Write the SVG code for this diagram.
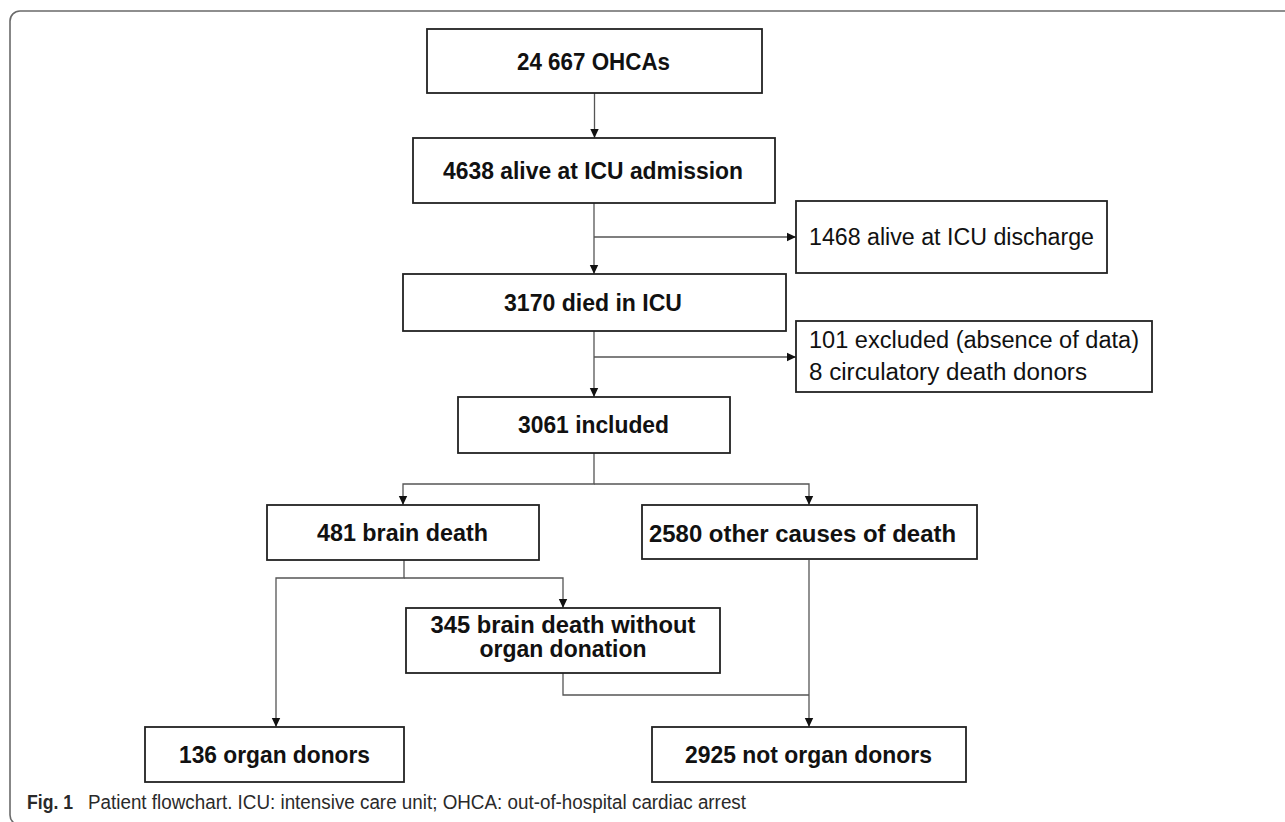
<svg xmlns="http://www.w3.org/2000/svg" width="1285" height="822" viewBox="0 0 1285 822">
<defs>
<marker id="ah" markerUnits="userSpaceOnUse" markerWidth="10" markerHeight="10" viewBox="0 0 10 10" refX="9" refY="5" orient="auto">
<path d="M0,0.8 L9,5 L0,9.2 Z" fill="#111"/>
</marker>
<style>
.frame{fill:none;stroke:#6a6a6a;stroke-width:1.6}
.box{fill:#fff;stroke:#222;stroke-width:1.8}
.b{font-family:"Liberation Sans",Arial,sans-serif;font-weight:bold;font-size:23.5px;fill:#111;text-anchor:middle}
.r{font-family:"Liberation Sans",Arial,sans-serif;font-size:23px;fill:#111}
.c{fill:none;stroke:#555;stroke-width:1.3}
.cap{font-family:"Liberation Sans",Arial,sans-serif;font-size:20px;fill:#2a2a2a}
</style>
</defs>
<rect class="frame" x="10" y="11" width="1300" height="814" rx="10"/>
<g id="connectors">
<path class="c" d="M594.5,93 V138" marker-end="url(#ah)"/>
<path class="c" d="M594,203 V274" marker-end="url(#ah)"/>
<path class="c" d="M594,237 H796" marker-end="url(#ah)"/>
<path class="c" d="M594,331 V397" marker-end="url(#ah)"/>
<path class="c" d="M594,357 H796" marker-end="url(#ah)"/>
<path class="c" d="M594,453 V484 H403 V505" marker-end="url(#ah)"/>
<path class="c" d="M594,484 H809 V505" marker-end="url(#ah)"/>
<path class="c" d="M404,560 V578 H276 V727" marker-end="url(#ah)"/>
<path class="c" d="M404,578 H563 V608" marker-end="url(#ah)"/>
<path class="c" d="M809,560 V727" marker-end="url(#ah)"/>
<path class="c" d="M563,673 V695 H809"/>
</g>
<g id="n1"><rect class="box" x="427" y="29" width="335" height="64"/><text class="b" x="593.5" y="70" textLength="153" lengthAdjust="spacingAndGlyphs">24 667 OHCAs</text></g>
<g id="n2"><rect class="box" x="413" y="138" width="362" height="65"/><text class="b" x="593" y="179" textLength="300" lengthAdjust="spacingAndGlyphs">4638 alive at ICU admission</text></g>
<g id="n3"><rect class="box" x="796" y="201" width="311" height="72"/><text class="r" x="809" y="245" textLength="285" lengthAdjust="spacingAndGlyphs">1468 alive at ICU discharge</text></g>
<g id="n4"><rect class="box" x="403" y="274" width="383" height="57"/><text class="b" x="593" y="311" textLength="178" lengthAdjust="spacingAndGlyphs">3170 died in ICU</text></g>
<g id="n5"><rect class="box" x="796" y="321" width="356" height="71"/><text class="r" x="809" y="348" textLength="330" lengthAdjust="spacingAndGlyphs">101 excluded (absence of data)</text><text class="r" x="809" y="380" textLength="278" lengthAdjust="spacingAndGlyphs">8 circulatory death donors</text></g>
<g id="n6"><rect class="box" x="458" y="397" width="272" height="56"/><text class="b" x="593.5" y="433" textLength="151" lengthAdjust="spacingAndGlyphs">3061 included</text></g>
<g id="n7"><rect class="box" x="267" y="505" width="272" height="55"/><text class="b" x="402.5" y="541" textLength="171" lengthAdjust="spacingAndGlyphs">481 brain death</text></g>
<g id="n8"><rect class="box" x="642" y="505" width="335" height="54"/><text class="b" x="802.5" y="542" textLength="307" lengthAdjust="spacingAndGlyphs">2580 other causes of death</text></g>
<g id="n9"><rect class="box" x="406" y="608" width="314" height="65"/><text class="b" x="563" y="633" textLength="265" lengthAdjust="spacingAndGlyphs">345 brain death without</text><text class="b" x="563" y="657" textLength="167" lengthAdjust="spacingAndGlyphs">organ donation</text></g>
<g id="n10"><rect class="box" x="145" y="727" width="259" height="55"/><text class="b" x="274.5" y="763" textLength="191" lengthAdjust="spacingAndGlyphs">136 organ donors</text></g>
<g id="n11"><rect class="box" x="652" y="727" width="314" height="55"/><text class="b" x="808.5" y="763" textLength="247" lengthAdjust="spacingAndGlyphs">2925 not organ donors</text></g>
<g id="caption"><text class="cap" x="27" y="809" font-weight="bold" textLength="46" lengthAdjust="spacingAndGlyphs">Fig. 1</text><text class="cap" x="88" y="809" textLength="658" lengthAdjust="spacingAndGlyphs">Patient flowchart. ICU: intensive care unit; OHCA: out-of-hospital cardiac arrest</text></g>
</svg>
